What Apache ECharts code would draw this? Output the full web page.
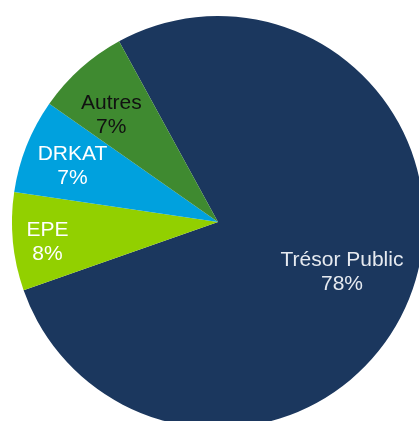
<!DOCTYPE html>
<html>
<head>
<meta charset="utf-8">
<style>
  html, body { margin: 0; padding: 0; background: #fff; }
  #chart { width: 419px; height: 421px; }
</style>
<script src="https://cdn.jsdelivr.net/npm/echarts@6/dist/echarts.min.js"></script>
</head>
<body>
<div id="chart"></div>
<script>
// parts of the total
const names = ["Trésor Public", "EPE", "DRKAT", "Autres"];
const values = [77.6, 7.7, 7.4, 7.3];
const colors = ["#1b375e", "#92d000", "#00a1de", "#3f8a30"];
const labelColors = ["#e6eaf0", "#ffffff", "#ffffff", "#111111"];
const labelOffsets = [[25, 12], [-65, 10], [-47, -17], [-36, -28]];

const chart = echarts.init(document.getElementById("chart"));

const options = {
  animation: false,
  series: [
    {
      type: "pie",
      center: [218, 222],
      radius: 206,
      startAngle: 118.7,
      clockwise: true,
      avoidLabelOverlap: false,
      percentPrecision: 0,
      emphasis: { disabled: true },
      label: {
        show: true,
        position: "inside",
        formatter: "{b}\n{d}%",
        fontFamily: "Liberation Sans, Arial, sans-serif",
        fontSize: 21,
        lineHeight: 24,
        align: "center",
      },
      labelLine: { show: false },
      data: names.map((name, i) => ({
        name: name,
        value: values[i],
        itemStyle: { color: colors[i] },
        label: { color: labelColors[i], offset: labelOffsets[i] },
      })),
    },
  ],
};

chart.setOption(options);
</script>
</body>
</html>
